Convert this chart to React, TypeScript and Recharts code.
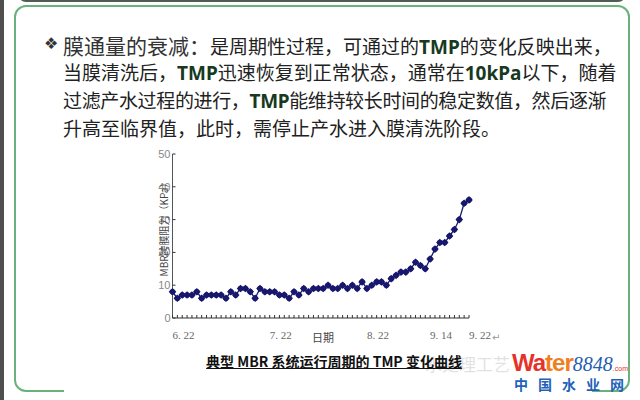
import React from "react";
import { LineChart, Line, XAxis, YAxis } from "recharts";

// Daily transmembrane pressure readings over one operating cycle (kPa)
const tmpValues: number[] = [
  8, 6, 7, 7, 7, 8, 6, 7, 7, 7, 7, 6, 8, 7, 9, 9, 8, 6, 9, 8, 8, 8, 7, 7, 6, 8,
  7, 9, 8, 9, 9, 9, 10, 9, 9, 10, 9, 10, 9, 11, 9, 10, 11, 11, 10, 12, 13, 14,
  14, 15, 17, 16, 15, 18, 21, 23, 23, 25, 27, 30, 35, 36,
];

// Date labels shown under the axis, keyed by sample index
const dateTickIndex: number[] = [0, 20, 40, 53, 61];
const dateTickLabel: string[] = ["6. 22", "7. 22", "8. 22", "9. 14", "9. 22"];

const yTicks: number[] = [0, 10, 20, 30, 40, 50];

const chartData = tmpValues.map((v, i) => ({ i, tmp: v }));
const allIndices = tmpValues.map((_, i) => i);

const LINE_COLOR = "#17176e";

const XTick = (props: any) => {
  const { x, y, payload } = props;
  const k = dateTickIndex.indexOf(payload.value);
  return (
    <g>
      <line x1={x} y1={y} x2={x} y2={y - 3} stroke="#333" strokeWidth={1} />
      {k >= 0 && (
        <text
          x={x}
          y={y + 21}
          textAnchor="start"
          fontFamily="'Liberation Serif', 'DejaVu Serif', serif"
          fontSize={11}
          fill="#666"
        >
          {dateTickLabel[k]}
        </text>
      )}
    </g>
  );
};

const YTick = (props: any) => {
  const { x, y, payload } = props;
  return (
    <g>
      <line x1={x} y1={y} x2={x + 3} y2={y} stroke="#333" strokeWidth={1} />
      <text
        x={x - 2}
        y={y + 4}
        textAnchor="end"
        fontFamily="'Liberation Sans', Arial, sans-serif"
        fontSize={11}
        fill="#888"
      >
        {payload.value}
      </text>
    </g>
  );
};

const Dot = (props: any) => {
  const { cx, cy, index } = props;
  if (cx == null || cy == null) return null;
  return (
    <g key={`d-${index}`}>
      <circle cx={cx} cy={cy} r={2.8} fill={LINE_COLOR} />
      <path
        d={`M${cx - 3.8},${cy} L${cx},${cy - 3.8} L${cx + 3.8},${cy} L${cx},${cy + 3.8} Z`}
        fill={LINE_COLOR}
      />
    </g>
  );
};

const cjk = "'Noto Sans CJK SC', 'Noto Sans', sans-serif";

const B = ({ children }: { children: React.ReactNode }) => (
  <span style={{ fontWeight: 700, color: "#173a1f", fontFamily: "'Noto Sans', 'DejaVu Sans', sans-serif" }}>
    {children}
  </span>
);

const lineStyle = (top: number, spacing = 0): React.CSSProperties => ({
  position: "absolute",
  left: 63,
  top,
  fontFamily: cjk,
  fontSize: 19,
  lineHeight: "24px",
  letterSpacing: spacing,
  color: "#222",
  whiteSpace: "nowrap",
});

export default function App() {
  return (
    <div
      style={{
        position: "fixed",
        left: 0,
        top: 0,
        width: 640,
        height: 400,
        background: "#ffffff",
        overflow: "hidden",
      }}
    >
      {/* slide chrome */}
      <div style={{ position: "absolute", left: 0, top: 0, width: 4, height: 400, background: "#4e4e4e" }} />
      <div
        style={{
          position: "absolute",
          left: 18,
          top: -14,
          width: 604,
          height: 12,
          border: "2px solid #4f5d52",
          borderRadius: 8,
        }}
      />
      <div
        style={{
          position: "absolute",
          left: 14,
          top: 5,
          width: 612,
          height: 383,
          border: "2px solid #69b27c",
          borderRadius: 12,
        }}
      />
      <div style={{ position: "absolute", left: 64, top: 380, width: 528, height: 20, background: "#ffffff" }} />

      {/* body text */}
      <div style={{ position: "absolute", left: 44, top: 34, fontSize: 16, color: "#333", fontFamily: "'DejaVu Sans', sans-serif" }}>
        ❖
      </div>
      <div style={lineStyle(33)}>
        <span style={{ fontSize: 21, color: "#333" }}>膜通量的衰减：</span>是周期性过程，可通过的<B>TMP</B>的变化反映出来，
      </div>
      <div style={lineStyle(60)}>
        当膜清洗后，<B>TMP</B>迅速恢复到正常状态，通常在<B>10kPa</B>以下，随着
      </div>
      <div style={lineStyle(88, -0.35)}>
        过滤产水过程的进行，<B>TMP</B>能维持较长时间的稳定数值，然后逐渐
      </div>
      <div style={lineStyle(116)}>升高至临界值，此时，需停止产水进入膜清洗阶段。</div>

      {/* TMP curve */}
      <div style={{ position: "absolute", left: 0, top: 0 }}>
        <LineChart
          width={640}
          height={400}
          data={chartData}
          margin={{ top: 154, right: 171, bottom: 52, left: 142.5 }}
        >
          <XAxis
            dataKey="i"
            type="number"
            domain={[0, 61]}
            ticks={allIndices}
            interval={0}
            tick={<XTick />}
            tickLine={false}
            tickSize={0}
            tickMargin={0}
            height={30}
            axisLine={{ stroke: "#333", strokeWidth: 1.2 }}
          />
          <YAxis
            type="number"
            domain={[0, 50]}
            ticks={yTicks}
            interval={0}
            tick={<YTick />}
            tickLine={false}
            tickSize={0}
            tickMargin={0}
            width={30}
            axisLine={{ stroke: "#555", strokeWidth: 1 }}
          />
          <Line
            type="linear"
            dataKey="tmp"
            stroke={LINE_COLOR}
            strokeWidth={1.3}
            dot={<Dot />}
            isAnimationActive={false}
          />
        </LineChart>
      </div>

      {/* axis titles */}
      <div
        style={{
          position: "absolute",
          left: 163,
          top: 227,
          transform: "translate(-50%, -50%) rotate(-90deg)",
          fontFamily: cjk,
          fontSize: 10,
          color: "#444",
          whiteSpace: "nowrap",
        }}
      >
        MBR跨膜阻力（KPa）
      </div>
      <div
        style={{
          position: "absolute",
          left: 323,
          top: 337,
          transform: "translate(-50%, -50%)",
          fontFamily: cjk,
          fontSize: 11,
          color: "#444",
        }}
      >
        日期
      </div>
      <div style={{ position: "absolute", left: 492, top: 332, fontSize: 10, color: "#999", fontFamily: "'DejaVu Sans', sans-serif" }}>
        ↵
      </div>

      {/* faint background mark */}
      <div
        style={{
          position: "absolute",
          left: 425,
          top: 351,
          fontFamily: cjk,
          fontSize: 17,
          color: "rgba(150,150,150,0.3)",
          whiteSpace: "nowrap",
        }}
      >
        水处理工艺
      </div>

      {/* caption */}
      <div
        style={{
          position: "absolute",
          left: 334,
          top: 361,
          transform: "translate(-50%, -50%)",
          fontFamily: cjk,
          fontSize: 14,
          fontWeight: 700,
          color: "#111",
          textDecoration: "underline",
          whiteSpace: "nowrap",
        }}
      >
        典型 MBR 系统运行周期的 TMP 变化曲线
      </div>

      {/* site mark */}
      <div
        style={{
          position: "absolute",
          left: 512,
          top: 350,
          whiteSpace: "nowrap",
          lineHeight: "26px",
        }}
      >
        <span style={{ fontFamily: "'Liberation Sans', Arial, sans-serif", fontWeight: 700, fontSize: 24, color: "#e5322a", letterSpacing: -1 }}>
          Wa
        </span>
        <span style={{ fontFamily: "'Liberation Sans', Arial, sans-serif", fontWeight: 700, fontSize: 24, color: "#f0801e", letterSpacing: -1 }}>
          ter
        </span>
        <span style={{ fontFamily: "'Liberation Serif', serif", fontStyle: "italic", fontSize: 20, color: "#1f5fb0" }}>8848</span>
        <span style={{ fontFamily: "'Liberation Sans', Arial, sans-serif", fontSize: 7, color: "#e5322a" }}>.com</span>
      </div>
      <div
        style={{
          position: "absolute",
          left: 514,
          top: 374,
          fontFamily: cjk,
          fontWeight: 700,
          fontSize: 14,
          color: "#1f62b8",
          letterSpacing: 10,
          whiteSpace: "nowrap",
        }}
      >
        中国水业网
      </div>
    </div>
  );
}
